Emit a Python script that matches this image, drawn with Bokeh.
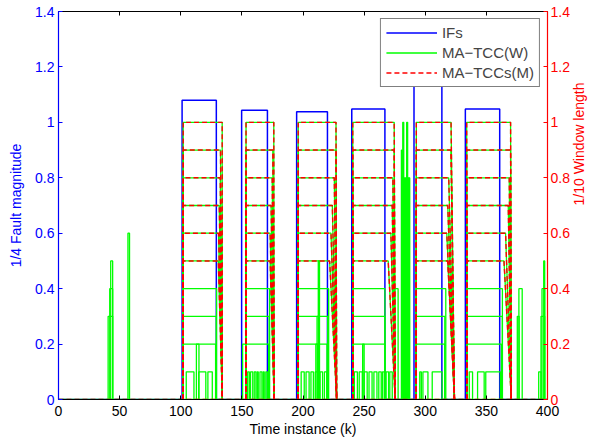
import math
from bokeh.plotting import figure
from bokeh.models import (Range1d, LinearAxis, FixedTicker, Legend, LegendItem,
                          CustomLabelingPolicy)
from bokeh.embed import file_html
from bokeh.resources import INLINE

# ---------------- data ----------------
x_ticks = [0, 50, 100, 150, 200, 250, 300, 350, 400]
x_tick_labels = ["0", "50", "100", "150", "200", "250", "300", "350", "400"]
y_ticks = [0, 0.2, 0.4, 0.6, 0.8, 1.0, 1.2, 1.4]
y_tick_labels = ["0", "0.2", "0.4", "0.6", "0.8", "1", "1.2", "1.4"]

# IFs: 1/4 fault magnitude, rectangular faults
if_start = [101.1, 149.8, 194.8, 239.9, 290.8, 332.8]
if_end = [129.1, 170.9, 220.0, 267.0, 313.6, 360.9]
if_mag = [1.08, 1.044, 1.038, 1.048, 1.25, 1.048]

# window length levels (1/10 window length)
levels = [0.1, 0.2, 0.3, 0.4, 0.5, 0.6, 0.7, 0.8, 0.9, 1.0]
win_start = [102.0, 153.4, 196.1, 240.7, 292.7, 333.9]
win_end_bottom = [134.0, 176.4, 227.5, 275.4, 323.9, 370.4]
# right end of each level (0.1 ... 1.0) in each fault block
win_end_b1 = [128.0, 128.5, 129.0, 129.3, 130.7, 130.9, 131.5, 132.3, 132.5, 133.9]
win_end_b2 = [171.5, 171.9, 172.3, 172.7, 173.1, 173.1, 173.9, 174.8, 175.3, 176.1]
win_end_b3 = [219.4, 219.6, 220.2, 221.0, 221.8, 222.9, 224.0, 225.6, 227.0, 227.0]
win_end_b4 = [266.5, 267.0, 267.0, 267.0, 269.7, 271.9, 273.0, 273.5, 274.6, 274.6]
win_end_b5 = [315.2, 316.0, 316.0, 316.8, 318.4, 317.6, 318.4, 319.2, 321.0, 321.1]
win_end_b6 = [361.5, 362.3, 363.1, 363.1, 364.4, 365.7, 367.9, 368.7, 369.8, 369.8]
win_end = [win_end_b1, win_end_b2, win_end_b3, win_end_b4, win_end_b5, win_end_b6]

# MA-TCC(W) extra pulses: start, end, level
w_pulse_start = [40.6, 41.9, 42.7, 56.8,
                 104.5, 114.7, 122.2, 112.8,
                 150.6, 154.7, 157.1, 160.1, 162.4, 164.8, 167.3, 169.6,
                 198.5, 202.5, 206.5, 210.0, 214.0, 217.5, 210.5, 211.5, 212.5,
                 242.0, 246.0, 250.0, 254.0, 258.0, 262.0, 265.0, 248.8,
                 268.0, 271.0, 275.0, 280.5, 281.6, 282.8, 283.8, 284.8, 286.0, 286.8,
                 295.5, 298.1, 305.7,
                 336.0, 342.8, 349.5,
                 375.3, 376.6, 392.8, 394.7, 395.5, 396.9]
w_pulse_end = [44.3, 44.3, 44.3, 58.1,
               110.8, 120.5, 125.8, 114.9,
               153.4, 156.1, 158.9, 161.5, 163.4, 166.4, 168.3, 170.9,
               201.0, 205.0, 208.5, 212.0, 216.0, 219.5, 212.0, 213.0, 213.5,
               244.5, 248.5, 252.5, 256.5, 260.5, 264.0, 266.5, 250.0,
               270.0, 273.0, 277.8, 281.2, 282.4, 283.4, 284.4, 285.6, 286.6, 287.3,
               296.8, 302.2, 313.8,
               338.7, 348.2, 361.5,
               376.8, 379.3, 394.7, 397.7, 397.7, 397.7]
w_pulse_level = [0.3, 0.4, 0.5, 0.6,
                 0.1, 0.1, 0.1, 0.2,
                 0.2, 0.1, 0.1, 0.1, 0.1, 0.1, 0.1, 0.1,
                 0.1, 0.1, 0.1, 0.1, 0.1, 0.1, 0.2, 0.3, 0.5,
                 0.1, 0.1, 0.1, 0.1, 0.1, 0.1, 0.1, 0.2,
                 0.1, 0.1, 0.4, 0.9, 1.0, 0.8, 0.8, 1.0, 0.8, 0.8,
                 0.1, 0.1, 0.1,
                 0.1, 0.1, 0.1,
                 0.3, 0.4, 0.1, 0.3, 0.4, 0.5]

# ---------------- build paths ----------------
blue_x, blue_y = [0.0], [0.0]
for s, e, m in zip(if_start, if_end, if_mag):
    blue_x += [s, s, e, e]
    blue_y += [0, m, m, 0]
blue_x.append(400.0)
blue_y.append(0.0)

green_xs, green_ys = [[0, 400]], [[0, 0]]
red_xs, red_ys = [[0, 400]], [[0, 0]]
for b in range(len(win_start)):
    xs0 = win_start[b]
    xb = win_end_bottom[b]
    for i, L in enumerate(levels):
        if i == 0:
            continue
        xe = win_end[b][i]
        path_x = [xs0, xs0, xe, xb if L >= 0.5 - 1e-9 else xe]
        path_y = [0, L, L, 0]
        green_xs.append(path_x)
        green_ys.append(path_y)
        if L >= 0.5 - 1e-9:
            red_xs.append(path_x)
            red_ys.append(path_y)
for s, e, h in zip(w_pulse_start, w_pulse_end, w_pulse_level):
    green_xs.append([s, s, e, e])
    green_ys.append([0, h, h, 0])

# ---------------- figure ----------------
FONT = "Liberation Sans"
FS = "14px"
BLUE = "#0000ff"
GREEN = "#00ff00"
RED = "#ff0000"

p = figure(width=597, height=444,
           x_range=Range1d(0, 400), y_range=Range1d(0, 1.4),
           output_backend="svg", toolbar_location=None,
           min_border_left=58, min_border_right=46,
           min_border_top=11, min_border_bottom=45,
           background_fill_color="white", border_fill_color="white")
p.outline_line_color = None
p.xgrid.visible = False
p.ygrid.visible = False

r_blue = p.line(blue_x, blue_y, line_color=BLUE, line_width=1.5)
r_green = p.multi_line(green_xs, green_ys, line_color=GREEN, line_width=1.3)
r_red = p.multi_line(red_xs, red_ys, line_color=RED, line_width=1.4, line_dash="5 3")


def style_axis(ax, color, labels):
    ax.axis_line_color = color
    ax.axis_line_width = 1.2
    ax.major_tick_line_color = color
    ax.minor_tick_line_color = None
    ax.major_tick_in = 4
    ax.major_tick_out = 0
    ax.major_label_text_color = color
    ax.major_label_text_font = FONT
    ax.major_label_text_font_size = FS
    ax.axis_label_text_font = FONT
    ax.axis_label_text_font_size = FS
    ax.axis_label_text_font_style = "normal"
    ax.axis_label_text_color = color
    ax.major_label_overrides = labels


hide_labels = "for (const i of indices) { indices.unset(i) }\nreturn indices"

xl = p.xaxis[0]
xl.ticker = FixedTicker(ticks=x_ticks)
style_axis(xl, "black", {t: s for t, s in zip(x_ticks, x_tick_labels)})
xl.axis_label = "Time instance (k)"
xl.major_label_standoff = 6
xl.axis_label_standoff = 2

yl = p.yaxis[0]
yl.ticker = FixedTicker(ticks=y_ticks)
style_axis(yl, BLUE, {t: s for t, s in zip(y_ticks, y_tick_labels)})
yl.axis_label = "1/4 Fault magnitude"
yl.major_label_standoff = 4
yl.axis_label_standoff = 8

yr = LinearAxis(ticker=FixedTicker(ticks=y_ticks))
style_axis(yr, RED, {t: s for t, s in zip(y_ticks, y_tick_labels)})
yr.major_label_standoff = 3
p.add_layout(yr, "right")

# outer right axis that only carries the right-hand title
yr_title = LinearAxis(ticker=FixedTicker(ticks=[]))
style_axis(yr_title, RED, {})
yr_title.axis_line_color = None
yr_title.major_tick_line_color = None
yr_title.major_label_text_font_size = "1px"
yr_title.major_label_standoff = 0
yr_title.major_label_policy = CustomLabelingPolicy(code=hide_labels)
yr_title.axis_label = "1/10 Window length"
yr_title.axis_label_standoff = 6
yr_title.axis_label_orientation = math.pi / 2
p.add_layout(yr_title, "right")

xt = LinearAxis(ticker=FixedTicker(ticks=x_ticks))
style_axis(xt, "black", {})
xt.major_label_text_font_size = "1px"
xt.major_label_standoff = 0
xt.major_label_policy = CustomLabelingPolicy(code=hide_labels)
p.add_layout(xt, "above")

legend = Legend(items=[LegendItem(label="IFs", renderers=[r_blue]),
                       LegendItem(label="MA\u2212TCC(W)", renderers=[r_green]),
                       LegendItem(label="MA\u2212TCCs(M)", renderers=[r_red])],
                location="top_right")
legend.margin = 7
legend.padding = 5
legend.spacing = 3
legend.glyph_width = 51
legend.glyph_height = 15
legend.label_height = 15
legend.label_standoff = 5
legend.label_text_font = FONT
legend.label_text_font_size = "15px"
legend.border_line_color = "black"
legend.border_line_width = 1
legend.background_fill_color = "white"
legend.background_fill_alpha = 1
p.add_layout(legend)

open("out.html", "w").write(file_html(p, INLINE))
